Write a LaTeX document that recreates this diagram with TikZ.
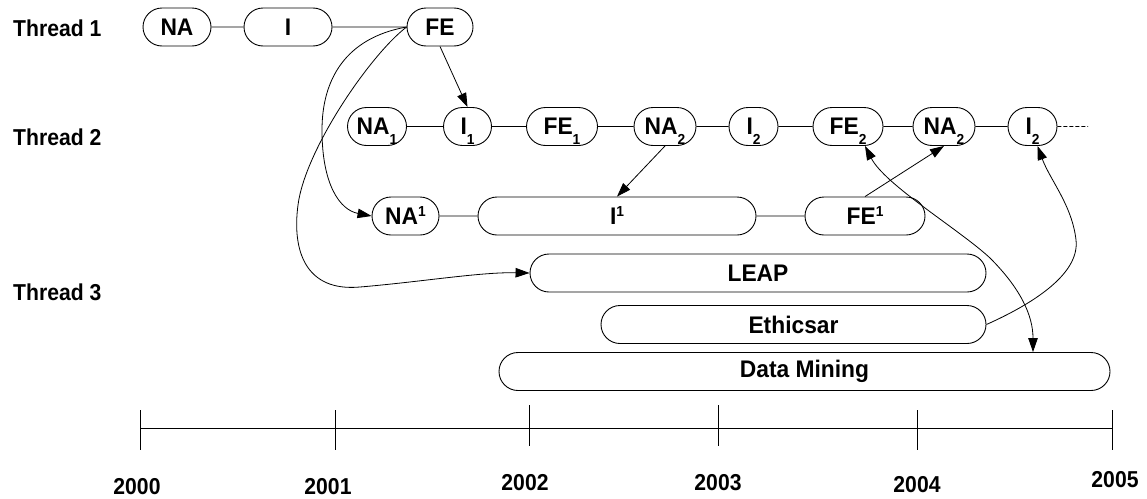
\documentclass[tikz,border=0pt]{standalone}
\usepackage{fontspec}
\setmainfont{Liberation Sans}[FakeStretch=0.92]
\newfontfamily\boxfont{Liberation Sans}[FakeStretch=0.95]
\usetikzlibrary{shapes.misc,arrows.meta}

% lowered and raised indices for the stage names (kept out of the box height)
\newcommand\subidx[1]{\raisebox{-10pt}[0pt][0pt]{\fontsize{14.5}{15}\selectfont #1}}
\newcommand\supidx[1]{\raisebox{7.5pt}[0pt][0pt]{\fontsize{14.5}{15}\selectfont #1}}

\tikzset{
  lbl/.style={font=\bfseries\fontsize{23}{26}\selectfont},
  stage/.style={rounded rectangle, draw, line width=0.9pt, inner xsep=2pt,
    inner ysep=0pt, minimum height=38pt,
    font=\boxfont\bfseries\fontsize{24}{26}\selectfont},
  link/.style={line width=0.8pt},
  flow/.style={line width=0.8pt, -{Triangle[length=14pt,width=9.5pt]}},
  twoway/.style={line width=0.8pt, {Triangle[length=14pt,width=9.5pt]}-{Triangle[length=14pt,width=9.5pt]}},
  thread/.style={lbl, anchor=west, inner sep=0pt},
  year/.style={lbl, inner sep=0pt},
  tick/.style={line width=0.8pt},
}

\begin{document}
\begin{tikzpicture}[x=1pt, y=-1pt]
\useasboundingbox (0,0) rectangle (1147,498);

% thread names
\node[thread] (t1) at (13,28)  {Thread 1};
\node[thread] (t2) at (13,137) {Thread 2};
\node[thread] (t3) at (13,292) {Thread 3};

% thread 1
\node[stage, minimum width=72pt] (na)  at (177,27) {NA};
\node[stage, minimum width=92pt] (i)   at (288,27) {I};
\node[stage, minimum width=70pt] (fe)  at (440,27) {FE};

% thread 2
\node[stage, minimum width=63pt] (na1) at (377,126.5)  {NA\subidx{1}};
\node[stage, minimum width=52pt] (i1)  at (467.5,126.5) {I\subidx{1}};
\node[stage, minimum width=75pt] (fe1) at (562,126.5)  {FE\subidx{1}};
\node[stage, minimum width=66pt] (na2) at (665,126.5)  {NA\subidx{2}};
\node[stage, minimum width=53pt] (i2)  at (753.5,126.5) {I\subidx{2}};
\node[stage, minimum width=74pt] (fe2) at (848,126.5)  {FE\subidx{2}};
\node[stage, minimum width=66pt] (na2b) at (944,126.5) {NA\subidx{2}};
\node[stage, minimum width=53pt] (i2b) at (1032.5,126.5) {I\subidx{2}};
\coordinate (open) at (1088,126.5);

% branch of thread 2
\node[stage, minimum width=71pt]  (nasup) at (405.5,216) {NA\supidx{1}};
\node[stage, minimum width=282pt] (isup)  at (617,216)   {I\supidx{1}};
\node[stage, minimum width=124pt] (fesup) at (865,216)   {FE\supidx{1}};

% thread 3
\node[stage, minimum width=460pt] (leap) at (758,273)     {LEAP};
\node[stage, minimum width=389pt] (eth)  at (793.5,324.5) {Ethicsar};
\node[stage, minimum width=615pt] (dm)   at (804.5,371.5) {Data Mining};

% sequence links
\draw[link] (na) -- (i);
\draw[link] (i) -- (fe);
\draw[link] (na1) -- (i1);
\draw[link] (i1) -- (fe1);
\draw[link] (fe1) -- (na2);
\draw[link] (na2) -- (i2);
\draw[link] (i2) -- (fe2);
\draw[link] (fe2) -- (na2b);
\draw[link] (na2b) -- (i2b);
\draw[link, dash pattern=on 4pt off 2pt] (i2b) -- (open);
\draw[link] (nasup) -- (isup);
\draw[link] (isup) -- (fesup);

% dependencies
\draw[flow] (fe.south) -- (i1.north);
\draw[flow] (na2.south) -- (isup.north);
\draw[flow] (fesup.north) -- (na2b.south);
\draw[flow] (fe.west) .. controls (345,38) and (322,80) .. (322,130)
  .. controls (322,185) and (340,210) .. (nasup.west);
\draw[flow] (fe.west) .. controls (370,55) and (305,150) .. (298,205)
  .. controls (292,250) and (305,292) .. (360,287)
  .. controls (420,282) and (480,272) .. (leap.west);
\draw[twoway] ([xshift=17pt]fe2.south) .. controls (885,185) and (960,230) .. (990,258)
  .. controls (1020,288) and (1033,315) .. ([xshift=228.5pt]dm.north);
\draw[flow] (eth.east) .. controls (1030,305) and (1080,275) .. (1076,240)
  .. controls (1072,205) and (1050,180) .. ([xshift=5pt]i2b.south);

% time axis
\coordinate (y0) at (140,428.7);
\coordinate (y5) at (1112,428.7);
\draw[link] (y0) -- (y5);
\draw[tick] (140,410) -- (140,450);
\draw[tick] (335,410) -- (335,450);
\draw[tick] (529,405) -- (529,446);
\draw[tick] (718,405) -- (718,446);
\draw[tick] (917,410) -- (917,450);
\draw[tick] (1112,410) -- (1112,450);

\node[year] (l2000) at (137,486.5) {2000};
\node[year] (l2001) at (328,487)   {2001};
\node[year] (l2002) at (525,482.5) {2002};
\node[year] (l2003) at (718,483)   {2003};
\node[year] (l2004) at (917,485)   {2004};
\node[year] (l2005) at (1115,480)  {2005};
\end{tikzpicture}
\end{document}
